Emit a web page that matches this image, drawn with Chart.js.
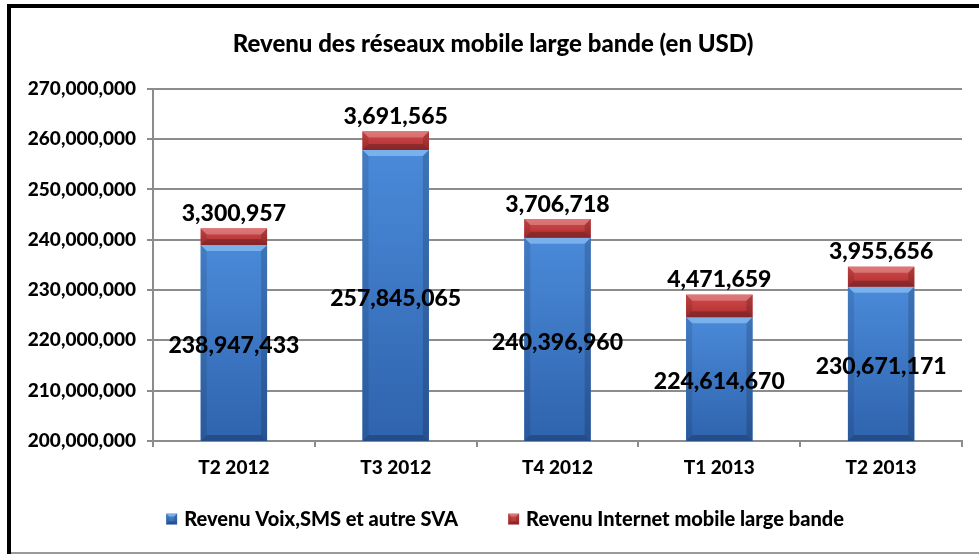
<!DOCTYPE html>
<html>
<head>
<meta charset="utf-8">
<script src="https://cdn.jsdelivr.net/npm/chart.js@4/dist/chart.umd.min.js"></script>
<style>
html,body{margin:0;padding:0;background:#fff;}
#wrap{width:979px;height:554px;position:relative;}
</style>
</head>
<body>
<div id="wrap"><canvas id="c" width="979" height="554"></canvas></div>
<script>
const categories = ['T2 2012', 'T3 2012', 'T4 2012', 'T1 2013', 'T2 2013'];
const voixSmsSva = [238947433, 257845065, 240396960, 224614670, 230671171];
const internetMobile = [3300957, 3691565, 3706718, 4471659, 3955656];
const seriesNames = ['Revenu Voix,SMS et autre SVA', 'Revenu Internet mobile large bande'];
const titleText = 'Revenu des réseaux mobile large bande (en USD)';
const yMin = 200000000, yMax = 270000000, yStep = 10000000;

const FONT = 'Lato, "Open Sans", sans-serif';
const fmt = v => Math.round(v).toLocaleString('en-US');
const COLORS = [
  { top: '#4a8ad9', bottom: '#2f63ad', base: '#3d77c4', light: 'rgba(160,210,255,0.55)' },
  { top: '#d44a4a', bottom: '#ad2f31', base: '#c23a3c', light: 'rgba(255,255,255,0.25)' }
];

function bevelRect(c, x0, y0, x1, y1, col, bmax) {
  const w = x1 - x0;
  const g = c.createLinearGradient(0, y0, 0, y1);
  g.addColorStop(0, col.top); g.addColorStop(1, col.bottom);
  c.fillStyle = g;
  c.fillRect(x0, y0, w, y1 - y0);
  const b = Math.min(bmax, (y1 - y0) / 2, w / 2);
  const poly = (pts, fill) => {
    c.beginPath();
    c.moveTo(pts[0][0], pts[0][1]);
    for (let i = 1; i < pts.length; i++) c.lineTo(pts[i][0], pts[i][1]);
    c.closePath();
    c.fillStyle = fill;
    c.fill();
  };
  poly([[x0, y0], [x1, y0], [x1 - b, y0 + b], [x0 + b, y0 + b]], col.light);
  poly([[x0, y0], [x0 + b, y0 + b], [x0 + b, y1 - b], [x0, y1]], 'rgba(0,0,0,0.10)');
  poly([[x1, y0], [x1 - b, y0 + b], [x1 - b, y1 - b], [x1, y1]], 'rgba(0,0,0,0.16)');
  poly([[x0, y1], [x0 + b, y1 - b], [x1 - b, y1 - b], [x1, y1]], 'rgba(0,0,0,0.22)');
}

const frame = {
  id: 'frame',
  beforeDraw(chart) {
    const c = chart.ctx;
    c.save();
    c.fillStyle = '#fff';
    c.fillRect(0, 0, chart.width, chart.height);
    c.fillStyle = '#000';
    c.fillRect(7, 4, chart.width - 7, 4);
    c.fillRect(7, 4, 4, chart.height - 4);
    c.fillStyle = '#9a9a9a';
    c.fillRect(11, 552, chart.width - 11, 2);
    c.restore();
  }
};

const bevel = {
  id: 'bevel',
  afterDatasetsDraw(chart) {
    const c = chart.ctx, a = chart.chartArea;
    c.save();
    c.beginPath();
    c.rect(a.left, a.top, a.right - a.left, a.bottom - a.top);
    c.clip();
    chart.data.datasets.forEach((ds, di) => {
      chart.getDatasetMeta(di).data.forEach(el => {
        const x0 = el.x - el.width / 2, x1 = el.x + el.width / 2;
        const y0 = Math.min(el.y, el.base), y1 = Math.min(Math.max(el.y, el.base), a.bottom);
        bevelRect(c, x0, y0, x1, y1, COLORS[di], 6);
      });
    });
    c.restore();
    c.save();
    c.font = '900 23px ' + FONT;
    c.fillStyle = '#000';
    c.textAlign = 'center';
    c.textBaseline = 'middle';
    chart.data.datasets.forEach((ds, di) => {
      chart.getDatasetMeta(di).data.forEach((el, i) => {
        const v = ds.data[i];
        if (di === 0) {
          const yb = Math.min(el.base, a.bottom);
          c.fillText(fmt(v), el.x, (el.y + yb) / 2 + 3);
        } else {
          c.fillText(fmt(v), el.x, el.y - 15);
        }
      });
    });
    c.restore();
  }
};

// legend drawn below the x axis, centred like the reference
const legendBox = {
  id: 'legendBox',
  afterDraw(chart) {
    const c = chart.ctx;
    const box = 11, gapText = 7, gapItems = 50, cy = 519, cx = 505;
    c.save();
    c.font = '900 20px ' + FONT;
    c.textBaseline = 'middle';
    c.textAlign = 'left';
    const items = chart.data.datasets.map((ds, i) => ({ text: ds.label, col: COLORS[i], w: c.measureText(ds.label).width }));
    let total = 0;
    items.forEach((it, i) => { total += box + gapText + it.w + (i ? gapItems : 0); });
    let x = cx - total / 2;
    items.forEach(it => {
      bevelRect(c, x, cy - box / 2, x + box, cy + box / 2, it.col, 3);
      c.fillStyle = '#000';
      c.fillText(it.text, x + box + gapText, cy + 1);
      x += box + gapText + it.w + gapItems;
    });
    c.restore();
  }
};

new Chart(document.getElementById('c'), {
  type: 'bar',
  data: {
    labels: categories,
    datasets: [
      { label: seriesNames[0], data: voixSmsSva, backgroundColor: COLORS[0].base, borderWidth: 0 },
      { label: seriesNames[1], data: internetMobile, backgroundColor: COLORS[1].base, borderWidth: 0 }
    ]
  },
  options: {
    responsive: false,
    animation: false,
    devicePixelRatio: 1,
    layout: { padding: { left: 24, right: 17, top: 8, bottom: 73 } },
    datasets: { bar: { categoryPercentage: 1, barPercentage: 0.41 } },
    plugins: {
      title: {
        display: true, text: titleText, color: '#000',
        font: { family: FONT, size: 24, weight: '900' },
        padding: { top: 22, bottom: 30 }
      },
      legend: { display: false },
      tooltip: { enabled: false }
    },
    scales: {
      x: {
        stacked: true,
        grid: { drawOnChartArea: false, drawTicks: true, tickLength: 6, color: '#8c8c8c', lineWidth: 2, offset: true },
        border: { color: '#8c8c8c', width: 2 },
        ticks: { color: '#000', padding: 9, font: { family: FONT, size: 19, weight: '900' } },
        afterFit(s) { s.height = 40; }
      },
      y: {
        stacked: true,
        min: yMin, max: yMax,
        grid: { color: '#8c8c8c', lineWidth: 2, tickLength: 6 },
        border: { color: '#8c8c8c', width: 2 },
        ticks: {
          stepSize: yStep, color: '#000', padding: 11,
          font: { family: FONT, size: 19, weight: '900' },
          callback: v => fmt(v)
        },
        afterFit(s) { s.width = 129; }
      }
    }
  },
  plugins: [frame, bevel, legendBox]
});
</script>
</body>
</html>
